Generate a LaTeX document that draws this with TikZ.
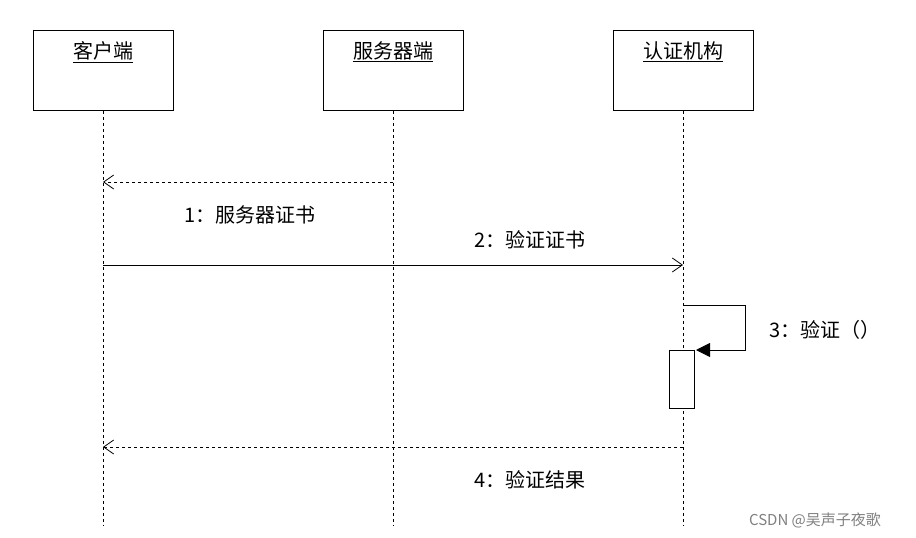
\documentclass[tikz,border=0pt]{standalone}
\usepackage{fontspec}
\setmainfont{Noto Sans CJK SC}
\newfontfamily\wmfont{Noto Sans CJK SC}
\usetikzlibrary{arrows.meta}
\begin{document}
\begin{tikzpicture}[x=1pt,y=-1pt,
  obj/.style={draw,thick,minimum width=140pt,minimum height=80pt,anchor=north,inner sep=0pt},
  lbl/.style={font=\fontsize{20}{24}\selectfont},
  life/.style={dashed,thick},
  ret/.style={dashed,thick,-{Straight Barb[length=10pt,width=14pt]}},
  call/.style={thick,-{Straight Barb[length=10pt,width=14pt]}}]
\useasboundingbox (0,0) rectangle (916,538);
\fill[white] (0,0) rectangle (916,538);
\node[obj] (c) at (103,30) {};
\node[obj] (s) at (393,30) {};
\node[obj] (a) at (683,30) {};
\node[lbl] at (103,52) {\underline{客户端}};
\node[lbl] at (393,52) {\underline{服务器端}};
\node[lbl] at (683,52) {\underline{认证机构}};
\coordinate (ce) at (103,525);
\coordinate (se) at (393,525);
\coordinate (ae) at (683,525);
\draw[life] (c.south) -- (ce);
\draw[life] (s.south) -- (se);
\draw[life] (a.south) -- (ae);
\coordinate (m1s) at (393,182); \coordinate (m1e) at (103,182);
\draw[ret] (m1s) -- (m1e);
\node[lbl] (l1) at (250,215) {1：服务器证书};
\coordinate (m2s) at (103,265); \coordinate (m2e) at (683,265);
\draw[call] (m2s) -- (m2e);
\node[lbl] (l2) at (530,240) {2：验证证书};
\node[draw,thick,fill=white,minimum width=25pt,minimum height=58pt,anchor=north,inner sep=0pt] (act) at (682,350) {};
\coordinate (m3s) at (683,305);
\draw[thick,-{Triangle[length=14pt,width=14pt]}] (m3s) -- (745,305) -- (745,350) -- (696,350);
\node[lbl] (l3) at (825,330) {3：验证（）};
\coordinate (m4s) at (683,447); \coordinate (m4e) at (103,447);
\draw[ret] (m4s) -- (m4e);
\node[lbl] (l4) at (530,480) {4：验证结果};
\node[font=\wmfont\fontsize{15}{18}\selectfont,text=gray] (wm) at (815,520) {CSDN @吴声子夜歌};
\end{tikzpicture}
\end{document}
